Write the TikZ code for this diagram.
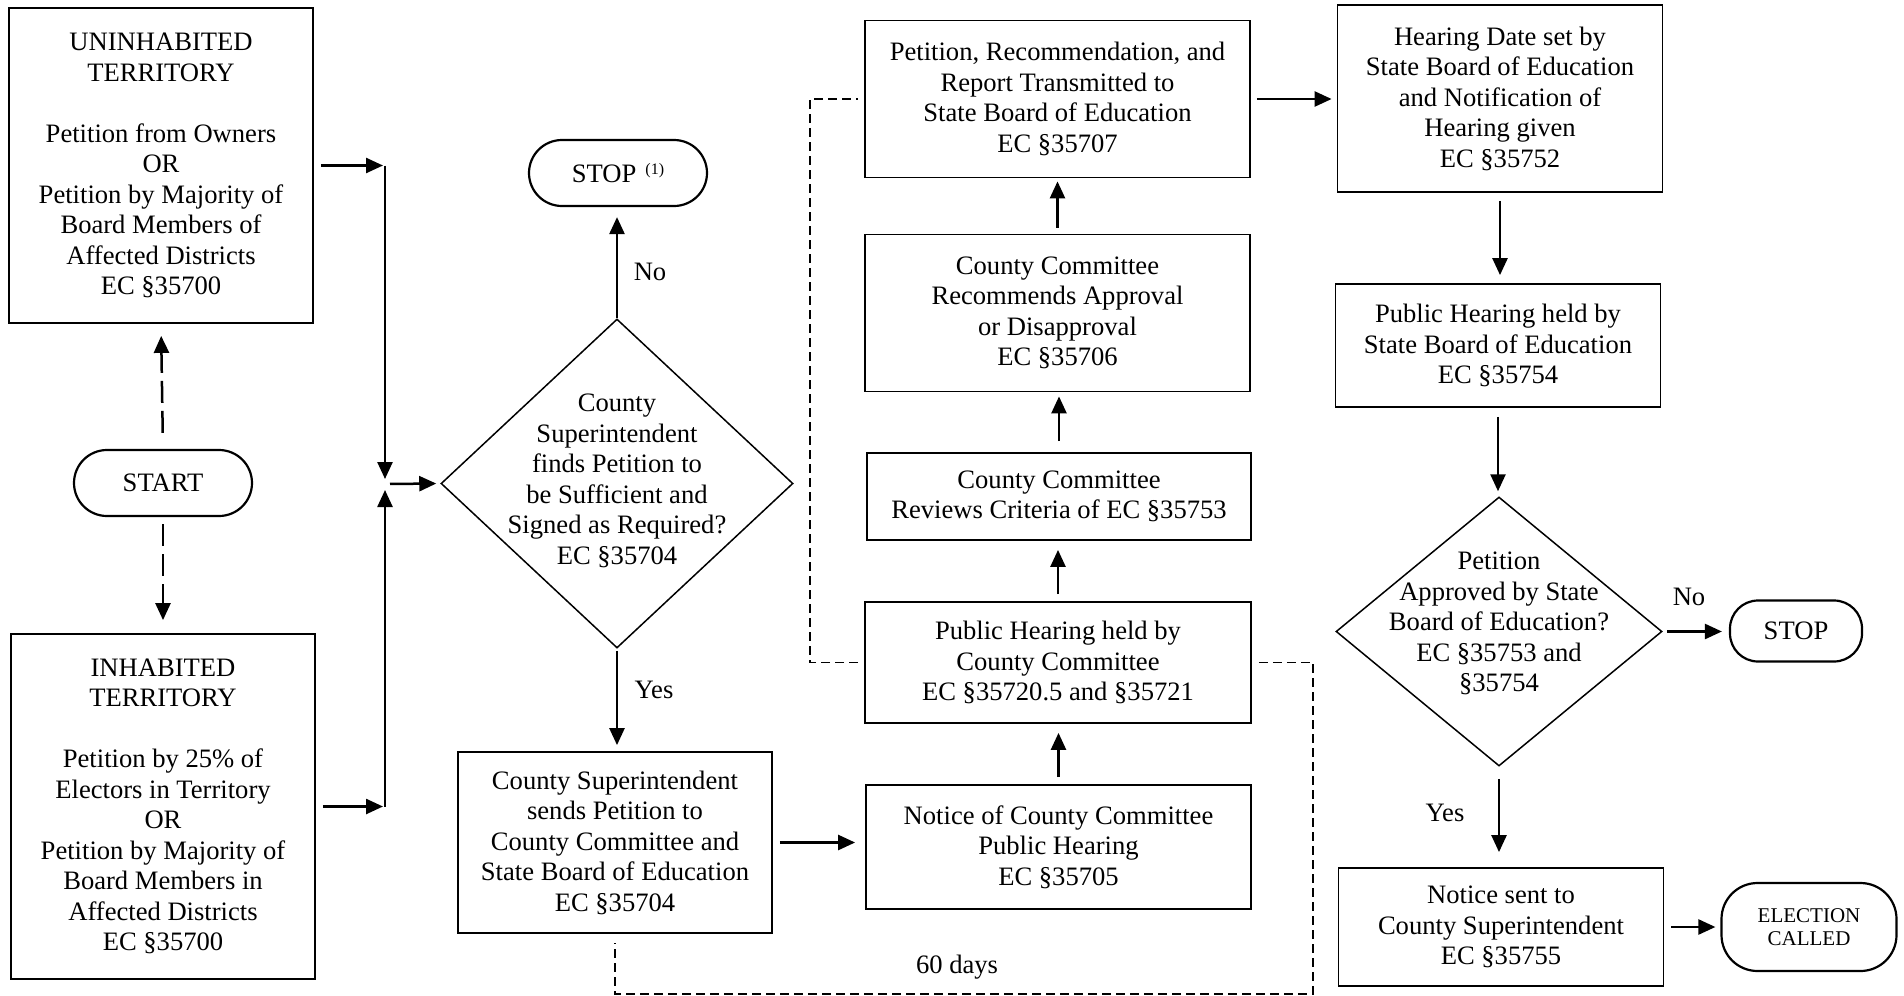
\documentclass[tikz,border=0pt]{standalone}
\usepackage{fontspec}
\setmainfont{Liberation Serif}
\usetikzlibrary{shapes.geometric,arrows.meta}
\tikzset{
  box/.style={draw, line width=1.8pt, inner sep=0pt, align=center},
  term/.style={draw, line width=2.2pt, rounded corners=30pt, inner sep=0pt, align=center},
  dia/.style={draw, diamond, line width=1.5pt, inner sep=0pt},
  arr/.style={line width=2.5pt, -{Triangle[length=17pt,width=15pt]}, shorten <=7pt, shorten >=7pt},
  darr/.style={arr, dash pattern=on 22pt off 8pt},
  link/.style={line width=1.8pt, dash pattern=on 9pt off 5pt},
}

\begin{document}
\begin{tikzpicture}[x=1pt, y=-1pt, font=\fontsize{26.6}{30.5}\selectfont]
  \useasboundingbox (0,0) rectangle (1904,996);
  % left column
  \node[box, minimum width=304pt, minimum height=315pt] (uninh) at (161,165.5) {UNINHABITED\\TERRITORY\\[30.5pt]Petition from Owners\\OR\\Petition by Majority of\\Board Members of\\Affected Districts\\EC §35700};
  \node[term, minimum width=178pt, minimum height=66pt, rounded corners=33pt] (start) at (163,483) {START};
  \node[box, minimum width=304pt, minimum height=345pt] (inh) at (163,806.5) {INHABITED\\TERRITORY\\[30.5pt]Petition by 25\% of\\Electors in Territory\\OR\\Petition by Majority of\\Board Members in\\Affected Districts\\EC §35700};
  \coordinate (c1) at (385,165.5);
  \coordinate (c2) at (385,806.5);
  \coordinate (jn) at (385,484);
  % second column
  \node[dia, minimum width=352pt, minimum height=329pt] (check) at (617,483.5) {};
  \node[align=center] (checktxt) at (617,481) {County\\Superintendent\\finds Petition to\\be Sufficient and\\Signed as Required?\\EC §35704};
  \node[term, minimum width=178pt, minimum height=66pt, rounded corners=33pt] (stop1) at (618,173) {STOP\hspace{9pt}\raisebox{8pt}{\fontsize{16}{16}\selectfont(1)}};
  \node[box, minimum width=314pt, minimum height=181pt] (sends) at (615,842.5) {County Superintendent\\sends Petition to\\County Committee and\\State Board of Education\\EC §35704};
  % third column
  \node[box, minimum width=385pt, minimum height=157pt] (trans) at (1057.5,99) {Petition, Recommendation, and\\Report Transmitted to\\State Board of Education\\EC §35707};
  \node[box, minimum width=385pt, minimum height=157pt] (recommend) at (1057.5,313) {County Committee\\Recommends Approval\\or Disapproval\\EC §35706};
  \node[box, minimum width=384pt, minimum height=87pt] (reviews) at (1059,496.5) {County Committee\\Reviews Criteria of EC §35753};
  \node[box, minimum width=386pt, minimum height=121pt] (pubhear) at (1058,662.5) {Public Hearing held by\\County Committee\\EC §35720.5 and §35721};
  \node[box, minimum width=385pt, minimum height=124pt] (notice) at (1058.5,847) {Notice of County Committee\\Public Hearing\\EC §35705};
  % right column
  \node[box, minimum width=325pt, minimum height=187pt] (hdate) at (1500,98.5) {Hearing Date set by\\State Board of Education\\and Notification of\\Hearing given\\EC §35752};
  \node[box, minimum width=325pt, minimum height=123pt] (sbhear) at (1498,345.5) {Public Hearing held by\\State Board of Education\\EC §35754};
  \node[dia, minimum width=326pt, minimum height=269pt] (approve) at (1499,631.5) {};
  \node[align=center] (approvetxt) at (1499,623.5) {Petition\\Approved by State\\Board of Education?\\EC §35753 and\\§35754};
  \node[term, minimum width=132pt, minimum height=61pt, rounded corners=28pt] (stop2) at (1796,631) {STOP};
  \node[box, minimum width=325pt, minimum height=118pt] (noticesent) at (1501,927) {Notice sent to\\County Superintendent\\EC §35755};
  \node[term, minimum width=175pt, minimum height=88pt, rounded corners=36pt, font=\fontsize{21}{23.3}\selectfont] (election) at (1809,927) {ELECTION\\CALLED};
  % labels
  \node (no1) at (650,272) {No};
  \node (yes1) at (654,690) {Yes};
  \node (no2) at (1689,597) {No};
  \node (yes2) at (1445,813) {Yes};
  \node (days) at (957,967) {60 days};
  % connectors
  \draw[darr, shorten <=16pt, shorten >=12pt] (start.north) -- (uninh.south);
  \draw[darr, shorten >=13pt] (start.south) -- (inh.north);
  \draw[arr, shorten >=2pt] (uninh.east) -- (c1);
  \draw[arr, shorten <=0pt, shorten >=5pt] (c1) -- (jn);
  \draw[arr, shorten >=2pt] (inh.east) -- (c2);
  \draw[arr, shorten <=0pt, shorten >=6pt] (c2) -- (jn);
  \draw[arr, shorten <=5pt, shorten >=4pt] (jn) -- (check.west);
  \draw[arr, shorten <=0pt, shorten >=10pt] (check.north) -- (check.north |- stop1.south);
  \draw[arr, shorten <=2pt, shorten >=6pt] (check.south) -- (check.south |- sends.north);
  \draw[arr, shorten >=10pt] (sends.east) -- (sends.east -| notice.west);
  \draw[arr, shorten >=9pt] (notice.north) -- (notice.north |- pubhear.south);
  \draw[arr, shorten >=9pt] (pubhear.north) -- (pubhear.north |- reviews.south);
  \draw[arr, shorten <=11pt, shorten >=4pt] (reviews.north) -- (reviews.north |- recommend.south);
  \draw[arr, shorten <=6pt, shorten >=3pt] (recommend.north) -- (recommend.north |- trans.south);
  \draw[arr, shorten <=6pt, shorten >=5pt] (trans.east) -- (trans.east -| hdate.west);
  \draw[arr, shorten <=8pt, shorten >=8pt] (hdate.south) -- (hdate.south |- sbhear.north);
  \draw[arr, shorten <=9pt, shorten >=5pt] (sbhear.south) -- (sbhear.south |- approve.north);
  \draw[arr, shorten <=4pt, shorten >=7pt] (approve.east) -- (approve.east -| stop2.west);
  \draw[arr, shorten <=12pt, shorten >=15pt] (approve.south) -- (approve.south |- noticesent.north);
  \draw[arr, shorten <=7pt, shorten >=5pt] (noticesent.east) -- (noticesent.east -| election.west);
  \coordinate (lk) at (810,0);
  \coordinate (rk) at (1313,994);
  \draw[link] ([xshift=-6pt]pubhear.west) -| (lk |- trans.west) -- ([xshift=-6pt]trans.west);
  \draw[link] ([xshift=7pt]pubhear.east) -| (rk) -| ([yshift=-9pt]sends.south);
\end{tikzpicture}
\end{document}
